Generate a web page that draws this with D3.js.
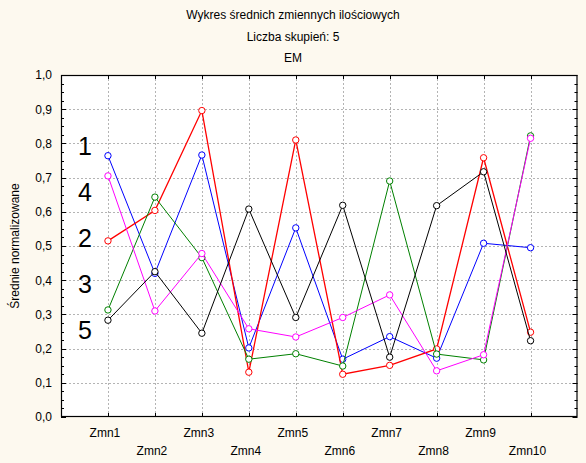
<!DOCTYPE html>
<html><head><meta charset="utf-8">
<script src="https://cdn.jsdelivr.net/npm/d3@7"></script>
<style>body{margin:0;background:#fdf9ef;}svg{display:block;font-family:"Liberation Sans",Arial,sans-serif;}</style>
</head><body><svg id="c" width="586" height="463"></svg>
<script>
const categories = ["Zmn1","Zmn2","Zmn3","Zmn4","Zmn5","Zmn6","Zmn7","Zmn8","Zmn9","Zmn10"];
const cluster1 = [0.764,0.420,0.766,0.202,0.553,0.169,0.235,0.172,0.508,0.495];
const cluster2 = [0.515,0.604,0.896,0.131,0.810,0.125,0.151,0.199,0.758,0.248];
const cluster3 = [0.313,0.643,0.466,0.169,0.185,0.149,0.690,0.184,0.167,0.822];
const cluster4 = [0.705,0.310,0.478,0.258,0.234,0.291,0.357,0.135,0.182,0.815];
const cluster5 = [0.283,0.425,0.245,0.608,0.291,0.619,0.175,0.618,0.717,0.223];
const yTicks = [0,0.1,0.2,0.3,0.4,0.5,0.6,0.7,0.8,0.9,1.0];
const clusterLabels = ["1","4","2","3","5"];
const titles = ["Wykres średnich zmiennych ilościowych","Liczba skupień: 5","EM"];

const series = [
  {values: cluster1, color: "#0000ff", w: 1},
  {values: cluster2, color: "#ff0000", w: 1.3},
  {values: cluster3, color: "#008000", w: 1},
  {values: cluster4, color: "#ff00ff", w: 1},
  {values: cluster5, color: "#000000", w: 1}
];

const svg = d3.select("#c");
const L = 61, R = 577.5, T = 75, B = 417;
const x = d3.scaleLinear().domain([0, categories.length + 1]).range([L, R]);
const xc = (i) => x(i + 1);
const y = d3.scaleLinear().domain([0, 1]).range([B, T]);

svg.append("rect").attr("x",0).attr("y",0).attr("width",586).attr("height",463).attr("fill","#fdf9ef");
svg.append("rect").attr("x",L).attr("y",T).attr("width",R-L).attr("height",B-T).attr("fill","#ffffff");

// titles
titles.forEach((t,i)=>{
  svg.append("text").attr("x",293).attr("y",19+i*21.5).attr("text-anchor","middle")
    .attr("font-size",12).attr("fill","#000").text(t);
});

// grid
const g = svg.append("g");
yTicks.slice(1,-1).forEach(v=>{
  g.append("line").attr("x1",L).attr("x2",R).attr("y1",Math.round(y(v))+0.5).attr("y2",Math.round(y(v))+0.5)
   .attr("stroke","#b4b4b4").attr("stroke-dasharray","2,2");
});
categories.forEach((c,i)=>{
  g.append("line").attr("x1",Math.round(xc(i))+0.5).attr("x2",Math.round(xc(i))+0.5).attr("y1",T).attr("y2",B)
   .attr("stroke","#b4b4b4").attr("stroke-dasharray","2,2");
});

// axes
const axL = d3.axisLeft(y).tickValues(yTicks).tickFormat(d=>d3.format(".1f")(d).replace(".",",")).tickSize(0).tickPadding(9);
const gl = svg.append("g").attr("transform",`translate(${L},0)`).call(axL);
gl.select(".domain").remove();
gl.selectAll("text").attr("font-size",12).attr("font-family","Liberation Sans, Arial, sans-serif");

// minor/major ticks inward on left and right
const minor = d3.range(0, 1.0001, 0.025);
minor.forEach(v=>{
  const major = Math.abs(v*10 - Math.round(v*10)) < 1e-6;
  const len = major ? 5 : 3;
  const yy = Math.round(y(v))+0.5;
  svg.append("line").attr("x1",L).attr("x2",L+len).attr("y1",yy).attr("y2",yy).attr("stroke","#000");
  svg.append("line").attr("x1",R).attr("x2",R-len).attr("y1",yy).attr("y2",yy).attr("stroke","#000");
});
categories.forEach((c,i)=>{
  const xx = Math.round(xc(i))+0.5;
  svg.append("line").attr("x1",xx).attr("x2",xx).attr("y1",B).attr("y2",B-4).attr("stroke","#000");
  svg.append("line").attr("x1",xx).attr("x2",xx).attr("y1",T).attr("y2",T+4).attr("stroke","#000");
  svg.append("text").attr("x",xc(i)-3).attr("y", i%2===0 ? 437 : 455).attr("text-anchor","middle")
    .attr("font-size",12).attr("fill","#000").text(c);
});

// frame
svg.append("rect").attr("x",L+0.5).attr("y",T+0.5).attr("width",R-L-1).attr("height",B-T-1)
  .attr("fill","none").attr("stroke","#000").attr("stroke-width",1.2);

// y title
svg.append("text").attr("transform","translate(19,246) rotate(-90)").attr("text-anchor","middle")
  .attr("font-size",12).attr("fill","#000").text("Średnie normalizowane");

// cluster labels
clusterLabels.forEach((t,i)=>{
  svg.append("text").attr("x",85).attr("y",155+i*46).attr("text-anchor","middle")
    .attr("font-size",25).attr("fill","#000").text(t);
});

// series
const line = d3.line().x((d,i)=>xc(i)).y(d=>y(d));
series.forEach(s=>{
  svg.append("path").datum(s.values).attr("d",line).attr("fill","none")
    .attr("stroke",s.color).attr("stroke-width",s.w);
  svg.selectAll(null).data(s.values).enter().append("circle")
    .attr("cx",(d,i)=>xc(i)).attr("cy",d=>y(d)).attr("r",3.2)
    .attr("fill","#fff").attr("stroke",s.color).attr("stroke-width",1);
});
</script></body></html>
